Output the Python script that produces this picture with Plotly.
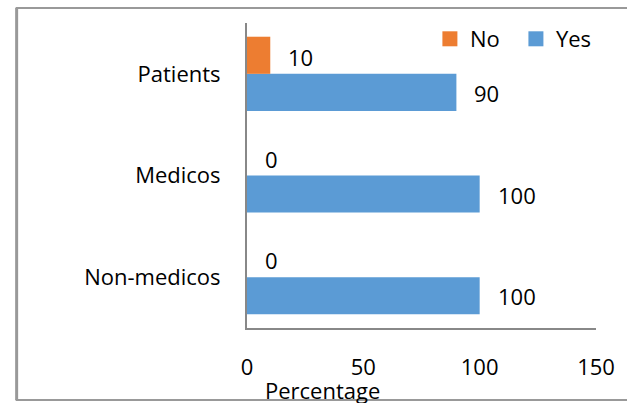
import plotly.graph_objects as go

categories = ["Non-medicos", "Medicos", "Patients"]
yes_values = [100, 100, 90]
no_values = [0, 0, 10]
x_ticks = [0, 50, 100, 150]

FONT = "Open Sans"
FS = 22
W, H = 627, 403
L, R, T, B = 247, 27, 23, 75
pw, ph = W - L - R, H - T - B
YES_C, NO_C = "#5B9BD5", "#ED7D31"

def px_x(p):
    return (p - L) / pw

def px_y(p):
    return (H - B - p) / ph

fig = go.Figure()
fig.add_trace(go.Bar(y=categories, x=yes_values, orientation="h", name="Yes",
                     marker=dict(color=YES_C, line=dict(width=0)), showlegend=False))
fig.add_trace(go.Bar(y=categories, x=no_values, orientation="h", name="No",
                     marker=dict(color=NO_C, line=dict(width=0)), showlegend=False))
# legend entries with larger square keys
fig.add_trace(go.Scatter(x=[None], y=[None], mode="markers", name="No", legend="legend",
                         marker=dict(symbol="square", size=15, color=NO_C)))
fig.add_trace(go.Scatter(x=[None], y=[None], mode="markers", name="Yes", legend="legend2",
                         marker=dict(symbol="square", size=15, color=YES_C)))

# data labels
for i, c in enumerate(categories):
    fig.add_annotation(x=yes_values[i], y=c, text=str(yes_values[i]), showarrow=False,
                       xanchor="left", yanchor="middle", xshift=16, yshift=-19,
                       font=dict(family=FONT, size=FS, color="#000"))
    fig.add_annotation(x=no_values[i], y=c, text=str(no_values[i]), showarrow=False,
                       xanchor="left", yanchor="middle", xshift=16, yshift=17,
                       font=dict(family=FONT, size=FS, color="#000"))

# axis title
fig.add_annotation(x=px_x(323), y=px_y(390), xref="paper", yref="paper", text="Percentage",
                   showarrow=False, xanchor="center", yanchor="middle",
                   font=dict(family=FONT, size=FS, color="#000"))

# outer frame
fc = "#999999"
fig.add_shape(type="line", xref="paper", yref="paper", x0=px_x(14), x1=px_x(14),
              y0=px_y(8), y1=px_y(400), line=dict(color=fc, width=3))
fig.add_shape(type="line", xref="paper", yref="paper", x0=px_x(13), x1=px_x(640),
              y0=px_y(8), y1=px_y(8), line=dict(color=fc, width=2))
fig.add_shape(type="line", xref="paper", yref="paper", x0=px_x(13), x1=px_x(640),
              y0=px_y(400), y1=px_y(400), line=dict(color=fc, width=2))

leg_common = dict(orientation="h", xanchor="left", yanchor="top",
                  font=dict(family=FONT, size=FS, color="#000"),
                  bgcolor="rgba(0,0,0,0)", itemwidth=30)
fig.update_layout(
    width=W, height=H,
    margin=dict(l=L, r=R, t=T, b=B),
    paper_bgcolor="white", plot_bgcolor="white",
    barmode="group", bargap=0.27, bargroupgap=0,
    showlegend=True,
    legend=dict(x=px_x(432), y=px_y(18), **leg_common),
    legend2=dict(x=px_x(519), y=px_y(18), **leg_common),
    font=dict(family=FONT, size=FS, color="#000"),
)
fig.update_xaxes(range=[0, 150], tickvals=x_ticks, showgrid=False, zeroline=False,
                 showline=True, linecolor="#888888", linewidth=2, ticks="",
                 ticklabelstandoff=19, tickfont=dict(family=FONT, size=FS, color="#000"))
fig.update_yaxes(showgrid=False, zeroline=False, showline=True, linecolor="#888888",
                 linewidth=2, ticks="", ticklabelstandoff=20,
                 tickfont=dict(family=FONT, size=FS, color="#000"))

fig.write_html("out.html")
